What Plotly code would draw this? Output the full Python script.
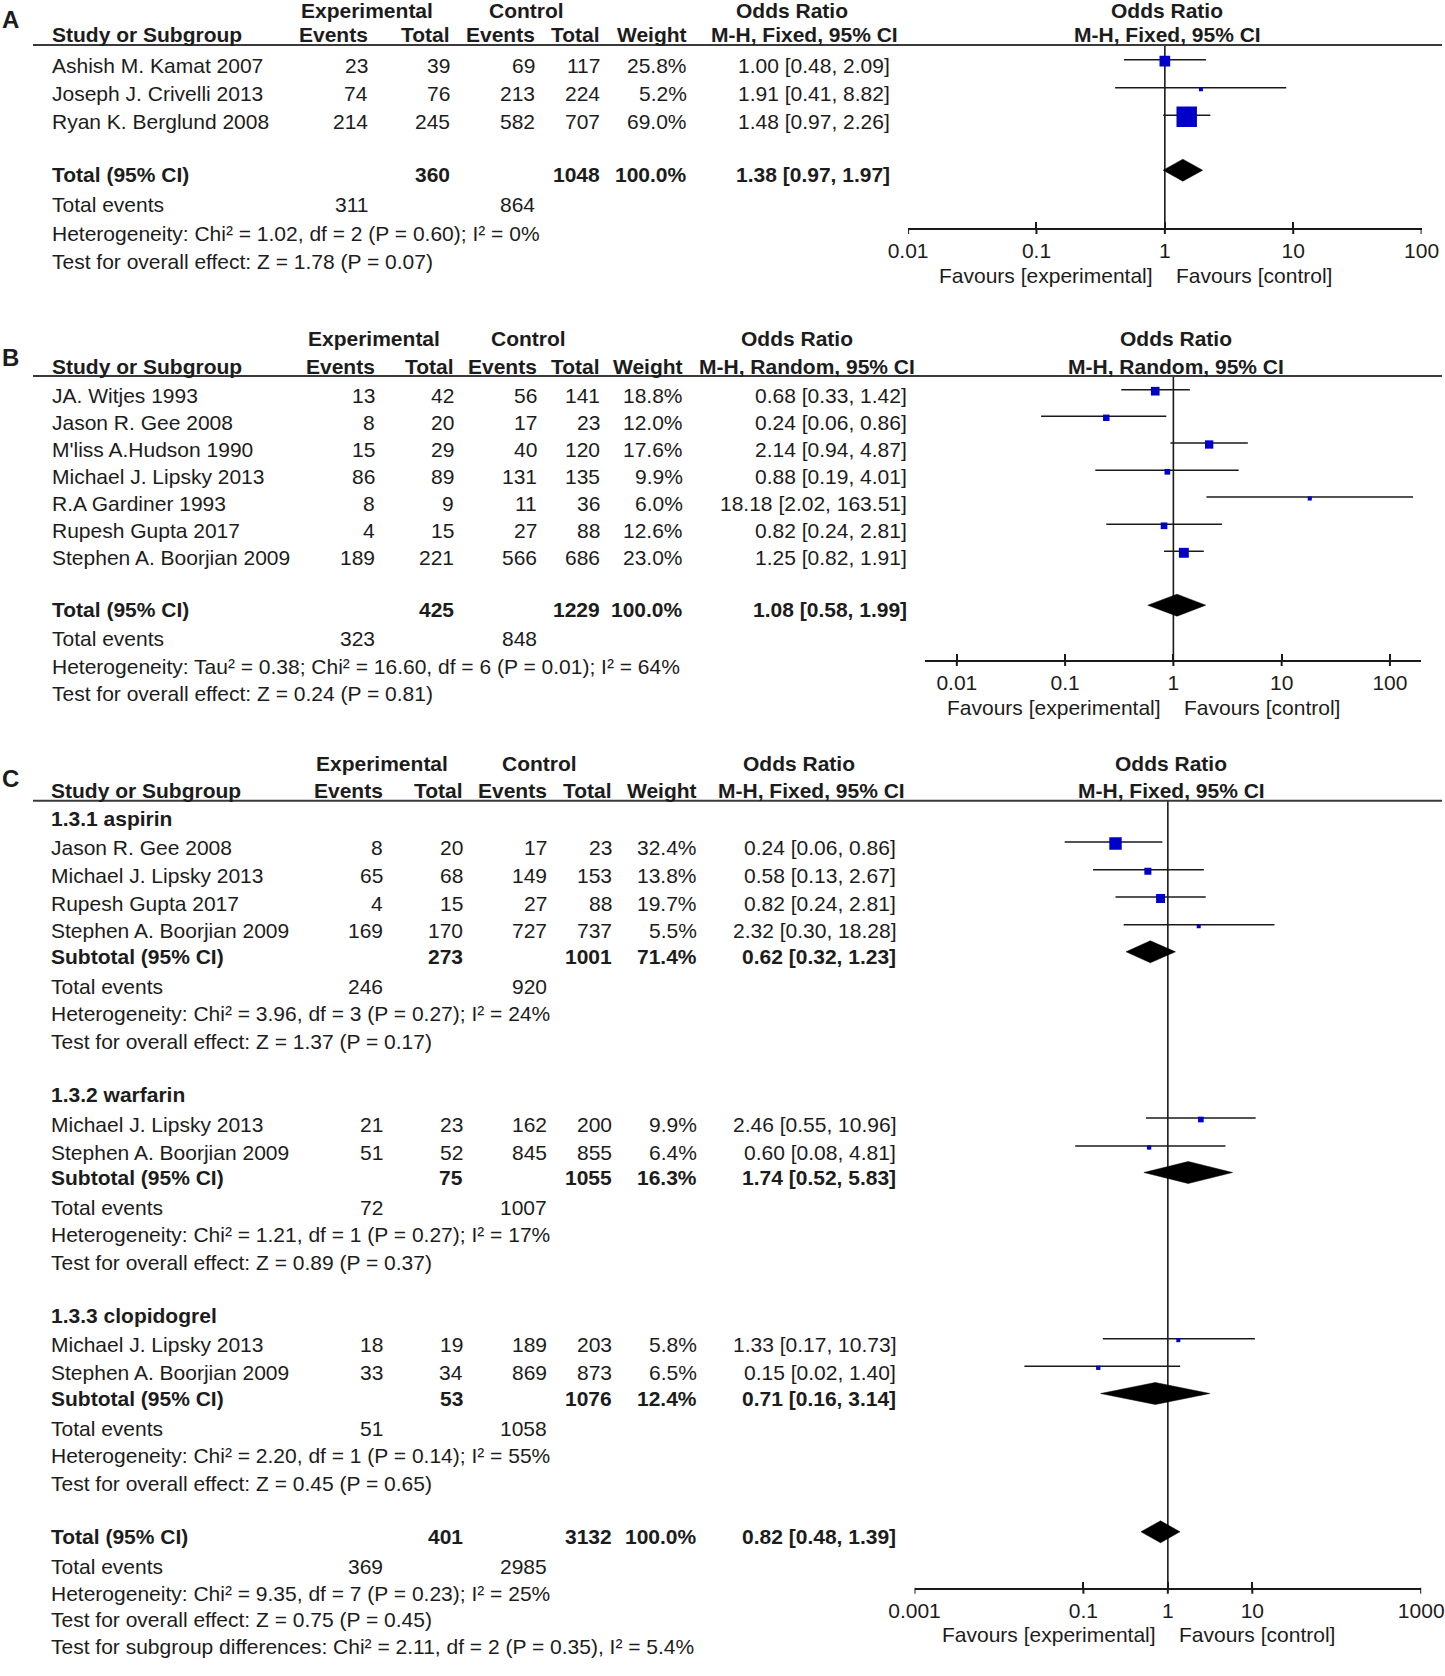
import numpy as np
import plotly.graph_objects as go

# ============================ DATA ============================
# ---------- Panel A (M-H, Fixed) ----------
studies_A = ["Ashish M. Kamat 2007", "Joseph J. Crivelli 2013", "Ryan K. Berglund 2008"]
exp_events_A = [23, 74, 214]
exp_total_A = [39, 76, 245]
ctl_events_A = [69, 213, 582]
ctl_total_A = [117, 224, 707]
weight_A = [25.8, 5.2, 69.0]
or_A = [1.00, 1.91, 1.48]
lo_A = [0.48, 0.41, 0.97]
hi_A = [2.09, 8.82, 2.26]
total_n_A = [360, 1048]
total_w_A = 100.0
total_or_A = [1.38, 0.97, 1.97]
total_events_A = [311, 864]
het_A = "Heterogeneity: Chi² = 1.02, df = 2 (P = 0.60); I² = 0%"
test_A = "Test for overall effect: Z = 1.78 (P = 0.07)"
method_A = "M-H, Fixed, 95% CI"
ticks_A = [0.01, 0.1, 1, 10, 100]
ticklabels_A = ["0.01", "0.1", "1", "10", "100"]

# ---------- Panel B (M-H, Random) ----------
studies_B = ["JA. Witjes 1993", "Jason R. Gee 2008", "M'liss A.Hudson 1990",
             "Michael J. Lipsky 2013", "R.A Gardiner 1993", "Rupesh Gupta 2017",
             "Stephen A. Boorjian 2009"]
exp_events_B = [13, 8, 15, 86, 8, 4, 189]
exp_total_B = [42, 20, 29, 89, 9, 15, 221]
ctl_events_B = [56, 17, 40, 131, 11, 27, 566]
ctl_total_B = [141, 23, 120, 135, 36, 88, 686]
weight_B = [18.8, 12.0, 17.6, 9.9, 6.0, 12.6, 23.0]
or_B = [0.68, 0.24, 2.14, 0.88, 18.18, 0.82, 1.25]
lo_B = [0.33, 0.06, 0.94, 0.19, 2.02, 0.24, 0.82]
hi_B = [1.42, 0.86, 4.87, 4.01, 163.51, 2.81, 1.91]
total_n_B = [425, 1229]
total_w_B = 100.0
total_or_B = [1.08, 0.58, 1.99]
total_events_B = [323, 848]
het_B = "Heterogeneity: Tau² = 0.38; Chi² = 16.60, df = 6 (P = 0.01); I² = 64%"
test_B = "Test for overall effect: Z = 0.24 (P = 0.81)"
method_B = "M-H, Random, 95% CI"
ticks_B = [0.01, 0.1, 1, 10, 100]
ticklabels_B = ["0.01", "0.1", "1", "10", "100"]

# ---------- Panel C (M-H, Fixed, subgroups) ----------
group_labels_C = ["1.3.1 aspirin", "1.3.2 warfarin", "1.3.3 clopidogrel"]
studies_C = [["Jason R. Gee 2008", "Michael J. Lipsky 2013", "Rupesh Gupta 2017", "Stephen A. Boorjian 2009"],
             ["Michael J. Lipsky 2013", "Stephen A. Boorjian 2009"],
             ["Michael J. Lipsky 2013", "Stephen A. Boorjian 2009"]]
exp_events_C = [[8, 65, 4, 169], [21, 51], [18, 33]]
exp_total_C = [[20, 68, 15, 170], [23, 52], [19, 34]]
ctl_events_C = [[17, 149, 27, 727], [162, 845], [189, 869]]
ctl_total_C = [[23, 153, 88, 737], [200, 855], [203, 873]]
weight_C = [[32.4, 13.8, 19.7, 5.5], [9.9, 6.4], [5.8, 6.5]]
or_C = [[0.24, 0.58, 0.82, 2.32], [2.46, 0.60], [1.33, 0.15]]
lo_C = [[0.06, 0.13, 0.24, 0.30], [0.55, 0.08], [0.17, 0.02]]
hi_C = [[0.86, 2.67, 2.81, 18.28], [10.96, 4.81], [10.73, 1.40]]
sub_n_C = [[273, 1001], [75, 1055], [53, 1076]]
sub_w_C = [71.4, 16.3, 12.4]
sub_or_C = [[0.62, 0.32, 1.23], [1.74, 0.52, 5.83], [0.71, 0.16, 3.14]]
sub_events_C = [[246, 920], [72, 1007], [51, 1058]]
sub_het_C = ["Heterogeneity: Chi² = 3.96, df = 3 (P = 0.27); I² = 24%",
             "Heterogeneity: Chi² = 1.21, df = 1 (P = 0.27); I² = 17%",
             "Heterogeneity: Chi² = 2.20, df = 1 (P = 0.14); I² = 55%"]
sub_test_C = ["Test for overall effect: Z = 1.37 (P = 0.17)",
              "Test for overall effect: Z = 0.89 (P = 0.37)",
              "Test for overall effect: Z = 0.45 (P = 0.65)"]
total_n_C = [401, 3132]
total_w_C = 100.0
total_or_C = [0.82, 0.48, 1.39]
total_events_C = [369, 2985]
het_C = "Heterogeneity: Chi² = 9.35, df = 7 (P = 0.23); I² = 25%"
test_C = "Test for overall effect: Z = 0.75 (P = 0.45)"
subgroup_test_C = "Test for subgroup differences: Chi² = 2.11, df = 2 (P = 0.35), I² = 5.4%"
method_C = "M-H, Fixed, 95% CI"
ticks_C = [0.001, 0.1, 1, 10, 1000]
ticklabels_C = ["0.001", "0.1", "1", "10", "1000"]

fav_left = "Favours [experimental]"
fav_right = "Favours [control]"

# ============================ STYLE / LAYOUT ============================
W, H = 1445, 1676
FONT = "Liberation Sans, Arial, sans-serif"
FS = 21
FSB = 21
TXT = "#1c1c1c"
LINE = "#1a1a1a"
BLUE = "#0000C8"
ROW_OFF = -6.5       # forest row offset relative to text centre
TXT_OFF = -2.0       # visual correction for annotation text
DIA_H = 11.0         # half height of diamonds
TICK = 6

fig = go.Figure()
ann = []
shapes = []


def text(x, y, s, anchor="left", bold=False, size=None):
    if size is None:
        size = FSB if bold else FS
    if anchor == "left":
        x -= 1
    elif anchor == "right":
        x += 1
    ann.append(dict(x=x / W, y=1 - (y + TXT_OFF) / H, xref="paper", yref="paper",
                    text=f"<b>{s}</b>" if bold else s, showarrow=False,
                    xanchor=anchor, yanchor="middle",
                    font=dict(family=FONT, size=size, color=TXT)))


def fmt_or(o, l, h):
    return f"{o:.2f} [{l:.2f}, {h:.2f}]"


def header(col, y1, y2, yline, method):
    text(col["exp_c"], y1, "Experimental", "center", True)
    text(col["ctl_c"], y1, "Control", "center", True)
    text(col["or_c"], y1, "Odds Ratio", "center", True)
    text(col["fr_c"], y1, "Odds Ratio", "center", True)
    text(col["name"], y2, "Study or Subgroup", "left", True)
    text(col["ee"], y2, "Events", "right", True)
    text(col["et"], y2, "Total", "right", True)
    text(col["ce"], y2, "Events", "right", True)
    text(col["ct"], y2, "Total", "right", True)
    text(col["wt"], y2, "Weight", "right", True)
    text(col["orh"], y2, method, "right", True)
    text(col["fr_c"], y2, method, "center", True)
    shapes.append(dict(type="line", xref="paper", yref="paper", x0=33 / W, x1=1442 / W,
                       y0=1 - yline / H, y1=1 - yline / H, line=dict(color="#3a3a3a", width=2)))


def study_row(col, y, name, ee, et, ce, ct, w, o, l, h):
    text(col["name"], y, name)
    text(col["ee"], y, str(ee), "right")
    text(col["et"], y, str(et), "right")
    text(col["ce"], y, str(ce), "right")
    text(col["ct"], y, str(ct), "right")
    text(col["wt"], y, f"{w:.1f}%", "right")
    text(col["orv"], y, fmt_or(o, l, h), "right")


def summary_rows(col, y, label, n, w, orl, yev, events):
    text(col["name"], y, label, "left", True)
    text(col["et"], y, str(n[0]), "right", True)
    text(col["ct"], y, str(n[1]), "right", True)
    text(col["wt"], y, f"{w:.1f}%", "right", True)
    text(col["orv"], y, fmt_or(*orl), "right", True)
    text(col["name"], yev, "Total events")
    text(col["ee"], yev, str(events[0]), "right")
    text(col["ce"], yev, str(events[1]), "right")


def msize(w):
    return max(4.0, 1.25 * w ** 0.66)


def add_axes(k, px0, px1, rng, tickvals, ticktext, ytop, ybot):
    xn = "xaxis" if k == 1 else f"xaxis{k}"
    yn = "yaxis" if k == 1 else f"yaxis{k}"
    xa = "x" if k == 1 else f"x{k}"
    ya = "y" if k == 1 else f"y{k}"
    fig.layout[xn] = dict(domain=[px0 / W, px1 / W], type="log", range=rng, anchor=ya,
                          showline=True, linecolor=LINE, linewidth=2,
                          ticks="inside", ticklen=TICK, tickwidth=2, tickcolor=LINE,
                          ticklabelstandoff=3,
                          tickvals=tickvals, ticktext=ticktext,
                          tickfont=dict(family=FONT, size=FS, color=TXT),
                          showgrid=False, zeroline=False, fixedrange=True,
                          automargin=False)
    fig.layout[yn] = dict(domain=[1 - ybot / H, 1 - ytop / H], range=[ybot, ytop],
                          visible=False, fixedrange=True, anchor=xa, automargin=False)
    # lower half of the crossing tick marks
    for t in tickvals:
        shapes.append(dict(type="line", xref=xa, yref="paper", x0=t, x1=t,
                           y0=1 - ybot / H, y1=1 - (ybot + TICK) / H,
                           line=dict(color=LINE, width=2)))
    # line of no effect
    fig.add_trace(go.Scatter(x=[1, 1], y=[ytop, ybot], mode="lines",
                             line=dict(color=LINE, width=1.6), xaxis=xa, yaxis=ya,
                             hoverinfo="skip"))
    return xa, ya


def add_studies(xa, ya, ys, ors, los, his, wts):
    xs, yl = [], []
    for y, l, h in zip(ys, los, his):
        xs += [l, h, None]
        yl += [y + ROW_OFF - 1.5, y + ROW_OFF - 1.5, None]
    fig.add_trace(go.Scatter(x=xs, y=yl, mode="lines", line=dict(color=LINE, width=1.6),
                             xaxis=xa, yaxis=ya, hoverinfo="skip"))
    fig.add_trace(go.Scatter(x=ors, y=[y + ROW_OFF for y in ys], mode="markers",
                             marker=dict(symbol="square", size=[msize(w) for w in wts],
                                         color=BLUE, opacity=1, line=dict(width=0)),
                             xaxis=xa, yaxis=ya, hoverinfo="skip"))


def add_diamond(xa, ya, y, orl):
    o, l, h = orl
    yc = y + ROW_OFF
    fig.add_trace(go.Scatter(x=[l, o, h, o, l], y=[yc, yc - DIA_H, yc, yc + DIA_H, yc],
                             mode="lines", fill="toself", fillcolor="black",
                             line=dict(color="black", width=0.5),
                             xaxis=xa, yaxis=ya, hoverinfo="skip"))


def favours(px_one, y):
    text(px_one - 11, y, fav_left, "right")
    text(px_one + 10, y, fav_right, "left")


def px_of_one(px0, px1, rng):
    return px0 + (0 - rng[0]) / (rng[1] - rng[0]) * (px1 - px0)


# ============================ PANEL A ============================
colA = dict(name=50.5, ee=369, et=451, ce=536, ct=601, wt=688, orv=891, orh=899,
            exp_c=367, ctl_c=526, or_c=792, fr_c=1167)
text(10, 21.7, "A", "center", True, 24)
header(colA, 12.5, 36.7, 45, method_A)
ysA = [67.7, 95.7, 123.3]
for i, y in enumerate(ysA):
    study_row(colA, y, studies_A[i], exp_events_A[i], exp_total_A[i], ctl_events_A[i],
              ctl_total_A[i], weight_A[i], or_A[i], lo_A[i], hi_A[i])
summary_rows(colA, 176.7, "Total (95% CI)", total_n_A, total_w_A, total_or_A, 207, total_events_A)
text(colA["name"], 236, het_A)
text(colA["name"], 263, test_A)
rngA = [-2, 2]
xa, ya = add_axes(1, 908.1, 1421.6, rngA, ticks_A, ticklabels_A, 45, 228)
add_studies(xa, ya, ysA, or_A, lo_A, hi_A, weight_A)
add_diamond(xa, ya, 176.7, total_or_A)
favours(px_of_one(908.1, 1421.6, rngA), 278)

# ============================ PANEL B ============================
colB = dict(name=50.5, ee=376, et=455, ce=538, ct=601, wt=684, orv=908, orh=916,
            exp_c=374, ctl_c=528, or_c=797, fr_c=1176)
text(10, 359, "B", "center", True, 24)
header(colB, 340.7, 368.3, 376, method_B)
ysB = [397.7, 424.3, 451, 478.3, 505, 532.3, 559.3]
for i, y in enumerate(ysB):
    study_row(colB, y, studies_B[i], exp_events_B[i], exp_total_B[i], ctl_events_B[i],
              ctl_total_B[i], weight_B[i], or_B[i], lo_B[i], hi_B[i])
summary_rows(colB, 611.7, "Total (95% CI)", total_n_B, total_w_B, total_or_B, 641, total_events_B)
text(colB["name"], 668.3, het_B)
text(colB["name"], 695, test_B)
rngB = [-2.294, 2.287]
xb, yb = add_axes(2, 925, 1421, rngB, ticks_B, ticklabels_B, 376, 660)
add_studies(xb, yb, ysB, or_B, lo_B, hi_B, weight_B)
add_diamond(xb, yb, 611.7, total_or_B)
favours(px_of_one(925, 1421, rngB), 709)

# ============================ PANEL C ============================
colC = dict(name=50, ee=384, et=464, ce=548, ct=613, wt=698, orv=897, orh=906,
            exp_c=382, ctl_c=539, or_c=799, fr_c=1171)
text(10, 780, "C", "center", True, 24)
header(colC, 765, 792.3, 800.7, method_C)
rngC = [-3, 3]
xc, yc_ = add_axes(3, 914.5, 1421.2, rngC, ticks_C, ticklabels_C, 800.7, 1587.7)
group_y = [820, 1096, 1317.7]
group_rows = [[850, 877.7, 905, 932.7], [1126, 1154], [1346.7, 1374.3]]
group_sub = [958.3, 1179, 1400]
group_ev = [988.3, 1209, 1430]
group_het = [1016, 1236.7, 1457.3]
group_test = [1043.3, 1264, 1485]
for g in range(3):
    text(colC["name"], group_y[g], group_labels_C[g], "left", True)
    for i, y in enumerate(group_rows[g]):
        study_row(colC, y, studies_C[g][i], exp_events_C[g][i], exp_total_C[g][i],
                  ctl_events_C[g][i], ctl_total_C[g][i], weight_C[g][i],
                  or_C[g][i], lo_C[g][i], hi_C[g][i])
    summary_rows(colC, group_sub[g], "Subtotal (95% CI)", sub_n_C[g], sub_w_C[g], sub_or_C[g],
                 group_ev[g], sub_events_C[g])
    text(colC["name"], group_het[g], sub_het_C[g])
    text(colC["name"], group_test[g], sub_test_C[g])
    add_studies(xc, yc_, group_rows[g], or_C[g], lo_C[g], hi_C[g], weight_C[g])
    add_diamond(xc, yc_, group_sub[g], sub_or_C[g])
summary_rows(colC, 1538.3, "Total (95% CI)", total_n_C, total_w_C, total_or_C, 1568.3, total_events_C)
add_diamond(xc, yc_, 1538.3, total_or_C)
text(colC["name"], 1595, het_C)
text(colC["name"], 1621.7, test_C)
text(colC["name"], 1648.3, subgroup_test_C)
favours(px_of_one(914.5, 1421.2, rngC), 1636)

fig.update_layout(template="none", width=W, height=H,
                  margin=dict(l=0, r=0, t=0, b=0, pad=0, autoexpand=False),
                  paper_bgcolor="white", plot_bgcolor="rgba(0,0,0,0)",
                  showlegend=False, annotations=ann, shapes=shapes,
                  font=dict(family=FONT, size=FS, color=TXT))

# remove the default page margin so the figure fills the window exactly
page_fix = ("document.body.style.margin='0px';"
            "document.body.style.overflow='hidden';"
            "document.documentElement.style.overflow='hidden';")
fig.write_html("out.html", post_script=page_fix, config={"displayModeBar": False})
